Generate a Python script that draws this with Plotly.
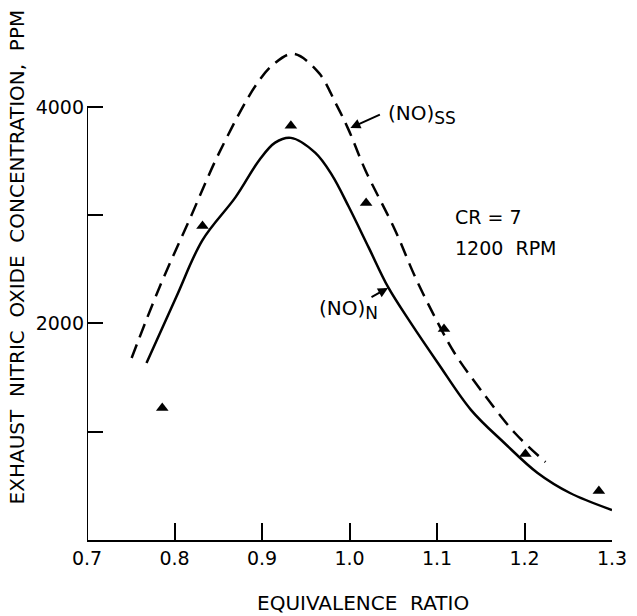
import plotly.graph_objects as go

# Data
no_n_x = [0.768, 0.802, 0.832, 0.870, 0.897, 0.915, 0.933, 0.961, 0.980, 0.999, 1.022, 1.044, 1.070, 1.101, 1.139, 1.177, 1.215, 1.252, 1.300]
no_n_y = [1635, 2245, 2770, 3169, 3510, 3670, 3714, 3575, 3370, 3080, 2700, 2337, 2005, 1635, 1200, 896, 619, 434, 277]

no_ss_x = [0.751, 0.783, 0.817, 0.851, 0.893, 0.914, 0.936, 0.965, 0.984, 0.999, 1.018, 1.052, 1.075, 1.101, 1.120, 1.150, 1.189, 1.224]
no_ss_y = [1681, 2337, 2956, 3575, 4200, 4400, 4490, 4314, 4037, 3788, 3418, 2864, 2430, 2005, 1727, 1386, 988, 720]

meas_x = [0.786, 0.832, 0.933, 1.019, 1.108, 1.201, 1.285]
meas_y = [1220, 2900, 3825, 3113, 1949, 794, 453]

x_ticks = [0.7, 0.8, 0.9, 1.0, 1.1, 1.2, 1.3]
x_tick_text = ["0.7", "0.8", "0.9", "1.0", "1.1", "1.2", "1.3"]
y_ticks = [1000, 2000, 3000, 4000]
y_tick_text = ["", "2000", "", "4000"]

FONT = "DejaVu Sans"

ML, MR, MT, MB = 87, 22, 10, 76
W, H = 637, 616
pw = W - ML - MR
ph = H - MT - MB
Y_MAX = 4895
TICK_PX = 17

fig = go.Figure()
fig.add_trace(go.Scatter(x=no_ss_x, y=no_ss_y, mode="lines",
                         line=dict(color="black", width=2.5, dash="14px,8px", shape="spline", smoothing=1.0),
                         showlegend=False, hoverinfo="skip"))
fig.add_trace(go.Scatter(x=no_n_x, y=no_n_y, mode="lines",
                         line=dict(color="black", width=2.5, shape="spline", smoothing=1.0),
                         showlegend=False, hoverinfo="skip"))
fig.add_trace(go.Scatter(x=meas_x, y=meas_y, mode="markers",
                         marker=dict(symbol="triangle-up", size=11, color="black"),
                         showlegend=False))

# y axis line drawn only up to the top tick
fig.add_shape(type="line", xref="x", yref="y", x0=x_ticks[0], x1=x_ticks[0], y0=0, y1=y_ticks[-1],
              line=dict(color="black", width=2))

fig.update_xaxes(range=[0.7, 1.3], tickvals=x_ticks, ticktext=x_tick_text,
                 ticks="inside", ticklen=TICK_PX, tickwidth=2, tickcolor="black",
                 showgrid=False, zeroline=False, showline=True, linecolor="black", linewidth=2,
                 tickfont=dict(family=FONT, size=19, color="black"))
fig.update_yaxes(range=[0, Y_MAX], tickvals=y_ticks, ticktext=y_tick_text,
                 ticks="inside", ticklen=16, tickwidth=2, tickcolor="black",
                 showgrid=False, zeroline=False, showline=False,
                 ticklabelstandoff=2,
                 tickfont=dict(family=FONT, size=19, color="black"))

ann_font = dict(family=FONT, size=20, color="black")
fig.add_annotation(x=1.042, y=3926, xref="x", yref="y",
                   text="(NO)<sub><span style='font-size:17px'>SS</span></sub>",
                   showarrow=False, xanchor="left", yanchor="middle", font=ann_font)
fig.add_annotation(x=1.001, y=3806, xref="x", yref="y", text="", showarrow=True,
                   ax=31, ay=-14, arrowhead=2, arrowsize=1, arrowwidth=2, arrowcolor="black")
fig.add_annotation(x=0.9625, y=2125, xref="x", yref="y",
                   text="(NO)<sub><span style='font-size:17px'>N</span></sub>",
                   showarrow=False, xanchor="left", yanchor="middle", font=ann_font)
fig.add_annotation(x=1.044, y=2328, xref="x", yref="y", text="", showarrow=True,
                   ax=-18, ay=10, arrowhead=2, arrowsize=1, arrowwidth=2, arrowcolor="black")
fig.add_annotation(x=1.118, y=2984, xref="x", yref="y", text="CR = 7",
                   showarrow=False, xanchor="left", yanchor="middle", font=dict(family=FONT, size=19, color="black"))
fig.add_annotation(x=1.118, y=2697, xref="x", yref="y", text="1200  RPM",
                   showarrow=False, xanchor="left", yanchor="middle", font=dict(family=FONT, size=19, color="black"))

# axis titles placed as in the reference
fig.add_annotation(x=(17 - ML) / pw, y=(H - MB - 257) / ph, xref="paper", yref="paper",
                   text="EXHAUST  NITRIC  OXIDE  CONCENTRATION,  PPM",
                   showarrow=False, textangle=-90, font=dict(family=FONT, size=20, color="black"),
                   xanchor="center", yanchor="middle")
fig.add_annotation(x=(365 - ML) / pw, y=(H - MB - 603) / ph, xref="paper", yref="paper",
                   text="EQUIVALENCE  RATIO",
                   showarrow=False, font=dict(family=FONT, size=20, color="black"),
                   xanchor="center", yanchor="middle")

fig.update_layout(width=W, height=H, margin=dict(l=ML, r=MR, t=MT, b=MB),
                  plot_bgcolor="white", paper_bgcolor="white")

fig.write_html("out.html", config={"displayModeBar": False},
               post_script="document.body.style.margin='0px';")
